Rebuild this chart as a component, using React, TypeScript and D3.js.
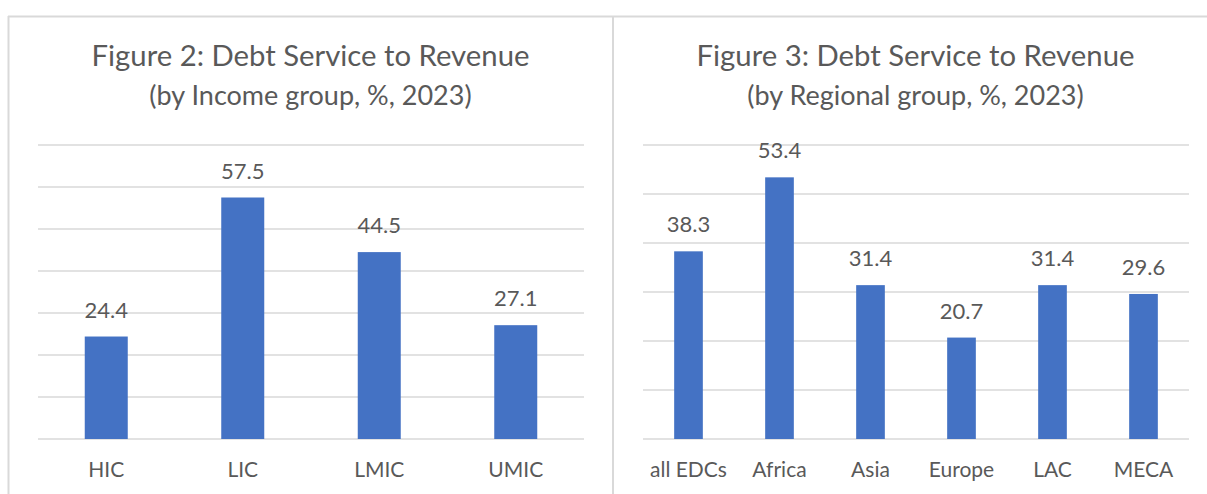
import React from "react";
import * as d3 from "d3";

const incomeCategories = ["HIC", "LIC", "LMIC", "UMIC"];
const incomeValues = [24.4, 57.5, 44.5, 27.1];
const incomeTicks = [0, 10, 20, 30, 40, 50, 60, 70];

const regionCategories = ["all EDCs", "Africa", "Asia", "Europe", "LAC", "MECA"];
const regionValues = [38.3, 53.4, 31.4, 20.7, 31.4, 29.6];
const regionTicks = [0, 10, 20, 30, 40, 50, 60];

const FONT = "Lato, 'Open Sans', sans-serif";
const TEXT = "#595959";
const BAR = "#4472C4";
const GRID = "#D9D9D9";

type PanelProps = {
  x0: number;
  x1: number;
  title: string;
  subtitle: string;
  categories: string[];
  values: number[];
  ticks: number[];
  plotLeft: number;
  plotRight: number;
  plotTop: number;
  plotBottom: number;
};

function Panel(p: PanelProps) {
  const maxTick = p.ticks[p.ticks.length - 1];
  const y = d3.scaleLinear().domain([0, maxTick]).range([p.plotBottom, p.plotTop]);
  const x = d3
    .scaleBand<string>()
    .domain(p.categories)
    .range([p.plotLeft, p.plotRight])
    .paddingInner(0.685)
    .paddingOuter(0.3425);
  const cx = (p.x0 + p.x1) / 2;
  return (
    <g>
      <text x={cx} y={66} textAnchor="middle" fontFamily={FONT} fontSize={29.3} fill={TEXT}>
        {p.title}
      </text>
      <text x={cx} y={105} textAnchor="middle" fontFamily={FONT} fontSize={27} fill={TEXT}>
        {p.subtitle}
      </text>
      {p.ticks.map((t) => (
        <line
          key={t}
          x1={p.plotLeft}
          x2={p.plotRight}
          y1={y(t)}
          y2={y(t)}
          stroke={GRID}
          strokeWidth={1.5}
        />
      ))}
      {p.categories.map((c, i) => (
        <g key={c}>
          <rect
            x={x(c)}
            y={y(p.values[i])}
            width={x.bandwidth()}
            height={y(0) - y(p.values[i])}
            fill={BAR}
          />
          <text
            x={(x(c) as number) + x.bandwidth() / 2}
            y={y(p.values[i]) - 19}
            textAnchor="middle"
            fontFamily={FONT}
            fontSize={22}
            fill={TEXT}
          >
            {p.values[i].toFixed(1)}
          </text>
          <text
            x={(x(c) as number) + x.bandwidth() / 2}
            y={477}
            textAnchor="middle"
            fontFamily={FONT}
            fontSize={21}
            fill={TEXT}
          >
            {c}
          </text>
        </g>
      ))}
    </g>
  );
}

export default function App() {
  return (
    <svg
      width={1207}
      height={494}
      style={{ position: "absolute", left: 0, top: 0, background: "#fff" }}
    >
      <rect x={0} y={0} width={1207} height={494} fill="#fff" />
      <line x1={8} x2={1207} y1={16.5} y2={16.5} stroke={GRID} strokeWidth={2} />
      <line x1={8.5} x2={8.5} y1={16} y2={494} stroke={GRID} strokeWidth={2} />
      <line x1={613} x2={613} y1={16} y2={494} stroke={GRID} strokeWidth={2} />
      <Panel
        x0={8}
        x1={613}
        title="Figure 2: Debt Service to Revenue"
        subtitle="(by Income group, %, 2023)"
        categories={incomeCategories}
        values={incomeValues}
        ticks={incomeTicks}
        plotLeft={38}
        plotRight={584}
        plotTop={145}
        plotBottom={439}
      />
      <Panel
        x0={613}
        x1={1218}
        title="Figure 3: Debt Service to Revenue"
        subtitle="(by Regional group, %, 2023)"
        categories={regionCategories}
        values={regionValues}
        ticks={regionTicks}
        plotLeft={643}
        plotRight={1189}
        plotTop={145}
        plotBottom={439}
      />
    </svg>
  );
}
